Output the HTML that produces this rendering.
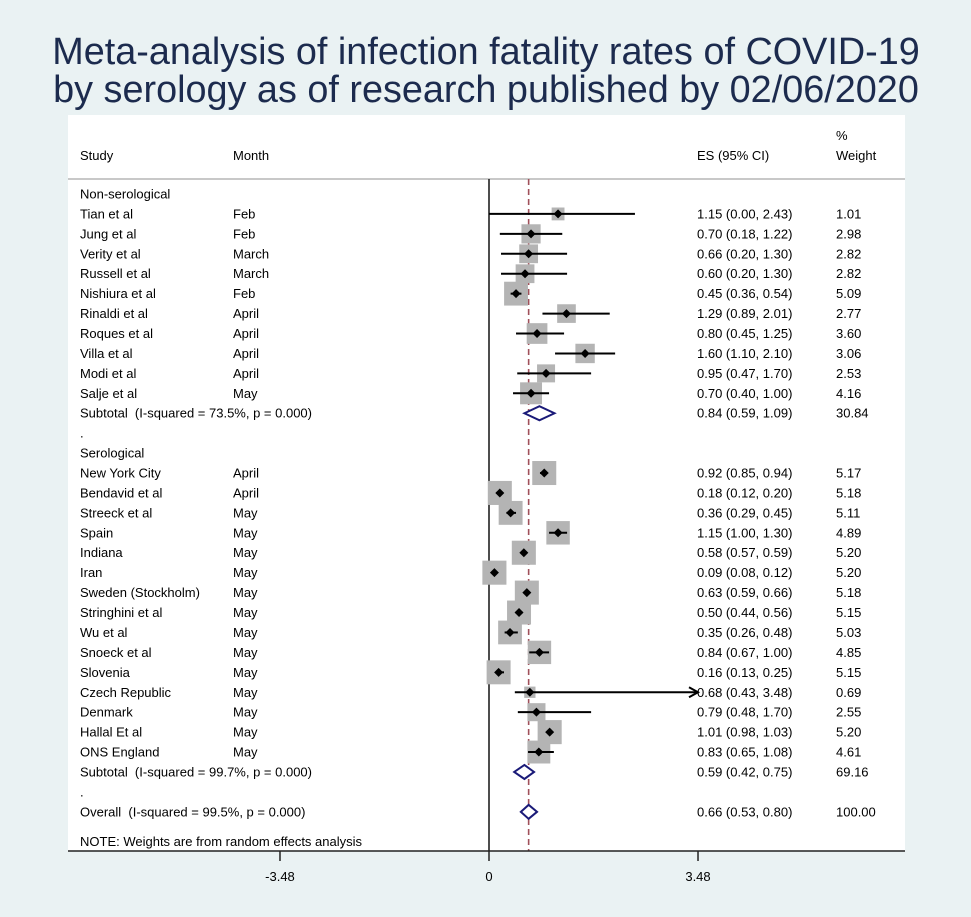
<!DOCTYPE html>
<html><head><meta charset="utf-8">
<style>
html,body{margin:0;padding:0;background:#eaf2f3;}
svg{display:block;font-family:"Liberation Sans",sans-serif;}
svg text{white-space:pre;}
</style></head>
<body>
<svg id="chart" width="971" height="917" viewBox="0 0 971 917" xmlns="http://www.w3.org/2000/svg">
<rect x="0" y="0" width="971" height="917" fill="#eaf2f3"/>
<text x="486" y="64" text-anchor="middle" font-size="37.8" fill="#1c2b4e">Meta-analysis of infection fatality rates of COVID-19</text>
<text x="486" y="102" text-anchor="middle" font-size="37.8" fill="#1c2b4e">by serology as of research published by 02/06/2020</text>
<rect x="68" y="115" width="837" height="736" fill="#ffffff"/>
<line x1="68" y1="179" x2="905" y2="179" stroke="#c8c8c8" stroke-width="2"/>
<g font-size="13" fill="#000">
<text x="80" y="160">Study</text>
<text x="233" y="160">Month</text>
<text x="697" y="160">ES (95% CI)</text>
<text x="836" y="140">%</text>
<text x="836" y="160">Weight</text>
</g>
<g id="rows"></g>
<g id="marks"></g>
<g id="axis"></g>
</svg>
<script>
const studies = ["Tian et al","Jung et al","Verity et al","Russell et al","Nishiura et al","Rinaldi et al","Roques et al","Villa et al","Modi et al","Salje et al",
"New York City","Bendavid et al","Streeck et al","Spain","Indiana","Iran","Sweden (Stockholm)","Stringhini et al","Wu et al","Snoeck et al","Slovenia","Czech Republic","Denmark","Hallal Et al","ONS England"];
const months = ["Feb","Feb","March","March","Feb","April","April","April","April","May",
"April","April","May","May","May","May","May","May","May","May","May","May","May","May","May"];
const es = [1.15,0.70,0.66,0.60,0.45,1.29,0.80,1.60,0.95,0.70,0.92,0.18,0.36,1.15,0.58,0.09,0.63,0.50,0.35,0.84,0.16,0.68,0.79,1.01,0.83];
const lo = [0.00,0.18,0.20,0.20,0.36,0.89,0.45,1.10,0.47,0.40,0.85,0.12,0.29,1.00,0.57,0.08,0.59,0.44,0.26,0.67,0.13,0.43,0.48,0.98,0.65];
const hi = [2.43,1.22,1.30,1.30,0.54,2.01,1.25,2.10,1.70,1.00,0.94,0.20,0.45,1.30,0.59,0.12,0.66,0.56,0.48,1.00,0.25,3.48,1.70,1.03,1.08];
const weights = [1.01,2.98,2.82,2.82,5.09,2.77,3.60,3.06,2.53,4.16,5.17,5.18,5.11,4.89,5.20,5.20,5.18,5.15,5.03,4.85,5.15,0.69,2.55,5.20,4.61];
const pooledLabels = ["Subtotal  (I-squared = 73.5%, p = 0.000)","Subtotal  (I-squared = 99.7%, p = 0.000)","Overall  (I-squared = 99.5%, p = 0.000)"];
const pooledEs = [0.84,0.59,0.66];
const pooledLo = [0.59,0.42,0.53];
const pooledHi = [1.09,0.75,0.80];
const pooledW = [30.84,69.16,100.00];
const axisTicks = [-3.48,0,3.48];

const NS = "http://www.w3.org/2000/svg";
const xS = v => 489 + v*60.06;
const yRow = i => 194 + i*19.93;
function mk(tag, attrs, parent){const e=document.createElementNS(NS,tag);for(const k in attrs)e.setAttribute(k,attrs[k]);parent.appendChild(e);return e;}
const rows=document.getElementById('rows'), marks=document.getElementById('marks'), axis=document.getElementById('axis');
function txt(x,y,s,parent,anchor){const t=mk('text',{x:x,y:y+4.5,'font-size':13,fill:'#000'},parent);if(anchor)t.setAttribute('text-anchor',anchor);t.textContent=s;return t;}
const f2=v=>v.toFixed(2);

const rowIdx=[];
for(let i=0;i<studies.length;i++) rowIdx.push(i<10? i+1 : i+4);
const pooledRow=[11,29,31];

let t=txt(80,yRow(0),"Non-serological",rows);


t=txt(80,yRow(13),"Serological",rows);


t=txt(80,yRow(12),".",rows);


t=txt(80,yRow(30),".",rows);


t=mk('text',{x:80,y:846,'font-size':13,fill:'#000'},rows);
t.textContent="NOTE: Weights are from random effects analysis";



let l=mk('line',{x1:xS(0),y1:179,x2:xS(0),y2:851,stroke:'#222','stroke-width':1.6},marks);


l=mk('line',{x1:xS(pooledEs[2]),y1:179,x2:xS(pooledEs[2]),y2:851,stroke:'#a0505a','stroke-width':1.6,'stroke-dasharray':'6,4'},marks);



for(let i=0;i<studies.length;i++){
  const y=yRow(rowIdx[i]);
  let a=txt(80,y,studies[i],rows);
  
  
  a=txt(233,y,months[i],rows);
  
  
  a=txt(697,y,f2(es[i])+" ("+f2(lo[i])+", "+f2(hi[i])+")",rows);
  
  
  a=txt(836,y,f2(weights[i]),rows);
  
  
  const s=4+8.8*Math.sqrt(weights[i]);
  const sq=mk('rect',{x:xS(es[i])-s/2,y:y-s/2,width:s,height:s,fill:'#b4b4b4'},marks);
  
  
  const arrow = hi[i]>=3.48;
  const ci=mk('line',{x1:xS(lo[i]),y1:y,x2:xS(Math.min(hi[i],3.48)),y2:y,stroke:'#000','stroke-width':2},marks);
  
  
  if(arrow){
    const ax=xS(3.48);
    const ah=mk('path',{d:`M${ax-9},${y-5} L${ax},${y} L${ax-9},${y+5}`,fill:'none',stroke:'#000','stroke-width':2},marks);
    
    
  }
  const x=xS(es[i]);
  const d=mk('path',{d:`M${x-4.5},${y} L${x},${y-4.5} L${x+4.5},${y} L${x},${y+4.5}Z`,fill:'#000'},marks);
  
  
}
for(let j=0;j<3;j++){
  const y=yRow(pooledRow[j]);
  let a=txt(80,y,pooledLabels[j],rows);
  
  
  a=txt(697,y,f2(pooledEs[j])+" ("+f2(pooledLo[j])+", "+f2(pooledHi[j])+")",rows);
  
  
  a=txt(836,y,f2(pooledW[j]),rows);
  
  
  const d=mk('path',{d:`M${xS(pooledLo[j])},${y} L${xS(pooledEs[j])},${y-7} L${xS(pooledHi[j])},${y} L${xS(pooledEs[j])},${y+7}Z`,fill:'#fff',stroke:'#1a1a78','stroke-width':2},marks);
  
  
}
l=mk('line',{x1:68,y1:851,x2:905,y2:851,stroke:'#222','stroke-width':1.5},axis);


for(const v of axisTicks){
  const tk=mk('line',{x1:xS(v),y1:851,x2:xS(v),y2:861,stroke:'#222','stroke-width':1.5},axis);
  
  
  const tl=mk('text',{x:xS(v),y:881,'font-size':13,fill:'#000','text-anchor':'middle'},axis);
  tl.textContent=v===0?"0":v.toFixed(2);
  
  
}
</script>
</body></html>
